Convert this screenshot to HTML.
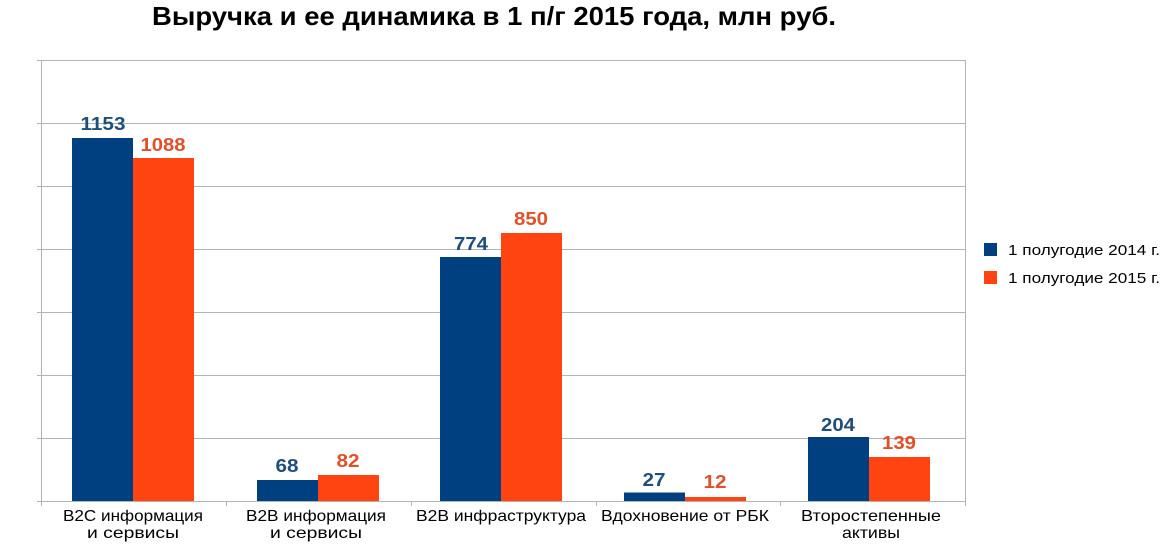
<!DOCTYPE html>
<html><head><meta charset="utf-8"><style>
body{margin:0;background:#fff;}
</style></head><body>
<svg width="1167" height="543" xmlns="http://www.w3.org/2000/svg" font-family="Liberation Sans, Arial, sans-serif">
<rect width="1167" height="543" fill="#fff"/>
<text x="494" y="25" text-anchor="middle" font-size="26" font-weight="bold" fill="#000" textLength="684" lengthAdjust="spacingAndGlyphs">Выручка и ее динамика в 1 п/г 2015 года, млн руб.</text>
<g stroke="#b3b3b3" stroke-width="1">
<line x1="41" y1="60.5" x2="965" y2="60.5"/>
<line x1="37" y1="123.5" x2="965" y2="123.5"/>
<line x1="37" y1="186.5" x2="965" y2="186.5"/>
<line x1="37" y1="249.5" x2="965" y2="249.5"/>
<line x1="37" y1="312.5" x2="965" y2="312.5"/>
<line x1="37" y1="375.5" x2="965" y2="375.5"/>
<line x1="37" y1="438.5" x2="965" y2="438.5"/>
<line x1="37" y1="501.5" x2="965" y2="501.5"/>
<line x1="37" y1="60.5" x2="41" y2="60.5"/>
<line x1="41.5" y1="60" x2="41.5" y2="506"/>
<line x1="965.5" y1="60" x2="965.5" y2="506"/>
<line x1="226.5" y1="501" x2="226.5" y2="506"/>
<line x1="411.5" y1="501" x2="411.5" y2="506"/>
<line x1="596.5" y1="501" x2="596.5" y2="506"/>
<line x1="780.5" y1="501" x2="780.5" y2="506"/>
</g>
<g fill="#004080">
<rect x="72" y="138" width="61" height="363"/>
<rect x="257" y="480" width="61" height="21"/>
<rect x="440" y="257" width="61" height="244"/>
<rect x="624" y="492.5" width="61" height="8.5"/>
<rect x="808" y="437" width="61" height="64"/>
</g>
<g fill="#ff4411">
<rect x="133" y="158" width="61" height="343"/>
<rect x="318" y="475" width="61" height="26"/>
<rect x="501" y="233" width="61" height="268"/>
<rect x="685" y="497" width="61" height="4"/>
<rect x="869" y="457" width="61" height="44"/>
</g>
<g font-size="18" font-weight="bold" text-anchor="middle" fill="#1f4e79">
<text x="103" y="130" textLength="45" lengthAdjust="spacingAndGlyphs">1153</text>
<text x="287" y="472" textLength="23" lengthAdjust="spacingAndGlyphs">68</text>
<text x="471" y="250" textLength="34" lengthAdjust="spacingAndGlyphs">774</text>
<text x="654" y="486" textLength="23" lengthAdjust="spacingAndGlyphs">27</text>
<text x="838" y="431" textLength="34" lengthAdjust="spacingAndGlyphs">204</text>
</g>
<g font-size="18" font-weight="bold" text-anchor="middle" fill="#e0502a">
<text x="163" y="151" textLength="45" lengthAdjust="spacingAndGlyphs">1088</text>
<text x="348" y="467" textLength="23" lengthAdjust="spacingAndGlyphs">82</text>
<text x="531" y="225" textLength="34" lengthAdjust="spacingAndGlyphs">850</text>
<text x="715" y="488" textLength="23" lengthAdjust="spacingAndGlyphs">12</text>
<text x="899" y="449" textLength="34" lengthAdjust="spacingAndGlyphs">139</text>
</g>
<g font-size="16" text-anchor="middle" fill="#000">
<text x="133" y="521" textLength="140" lengthAdjust="spacingAndGlyphs">B2C информация</text>
<text x="133" y="538" textLength="92" lengthAdjust="spacingAndGlyphs">и сервисы</text>
<text x="316" y="521" textLength="140" lengthAdjust="spacingAndGlyphs">B2B информация</text>
<text x="316" y="538" textLength="92" lengthAdjust="spacingAndGlyphs">и сервисы</text>
<text x="501" y="521" textLength="170" lengthAdjust="spacingAndGlyphs">B2B инфраструктура</text>
<text x="685" y="521" textLength="168" lengthAdjust="spacingAndGlyphs">Вдохновение от РБК</text>
<text x="871" y="521" textLength="140" lengthAdjust="spacingAndGlyphs">Второстепенные</text>
<text x="871" y="538" textLength="58" lengthAdjust="spacingAndGlyphs">активы</text>
</g>
<rect x="984" y="243" width="13" height="13" fill="#004080"/>
<rect x="984" y="271" width="13" height="13" fill="#ff4411"/>
<g font-size="15" fill="#000">
<text x="1008" y="255" textLength="152" lengthAdjust="spacingAndGlyphs">1 полугодие 2014 г.</text>
<text x="1008" y="283" textLength="152" lengthAdjust="spacingAndGlyphs">1 полугодие 2015 г.</text>
</g>
</svg>
</body></html>
